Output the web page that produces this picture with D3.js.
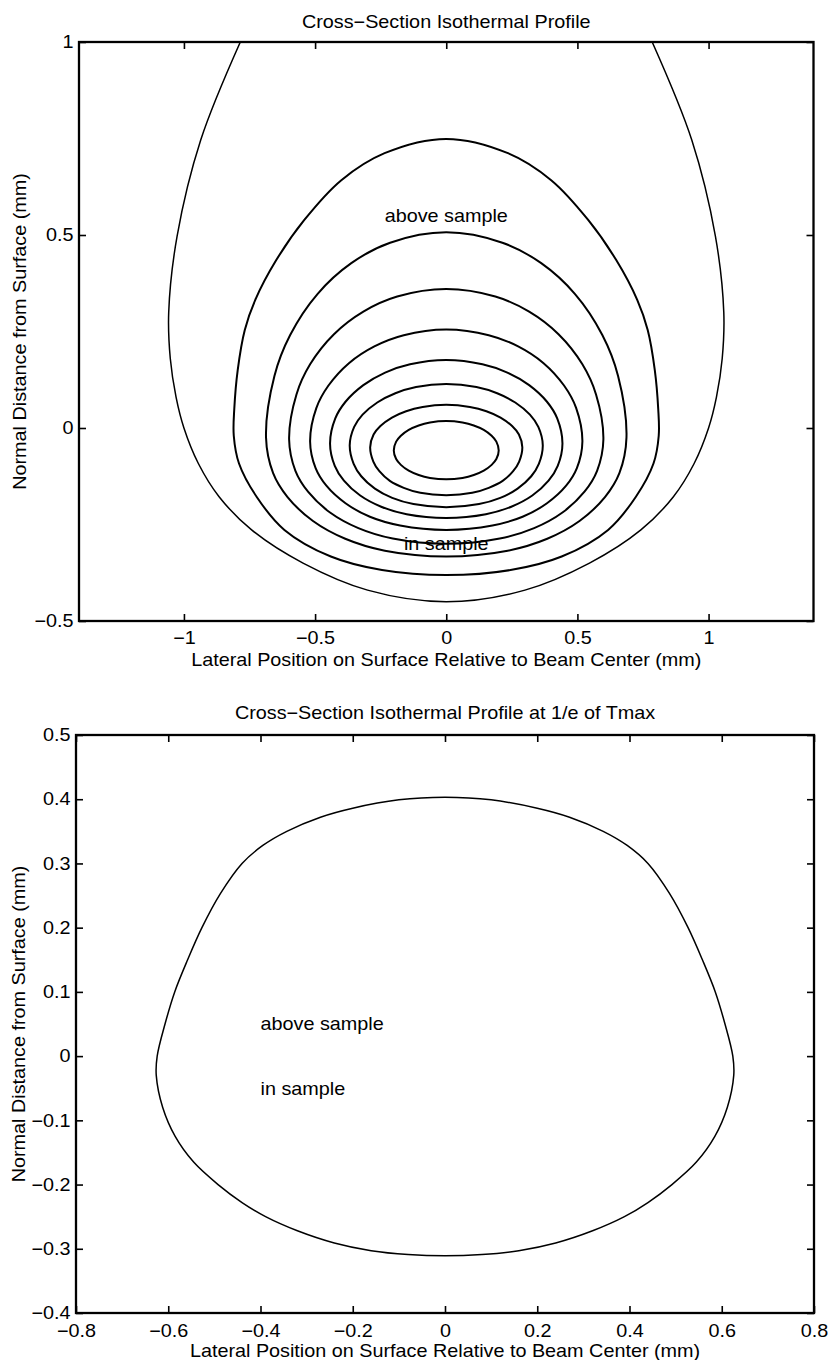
<!DOCTYPE html>
<html>
<head>
<meta charset="utf-8">
<script src="https://cdn.jsdelivr.net/npm/d3@7"></script>
<style>
  html, body { margin: 0; padding: 0; background: #fff; }
  svg { display: block; }
  text { font-family: "Liberation Sans", Arial, Helvetica, sans-serif; fill: #000; }
</style>
</head>
<body>
<svg id="fig" width="831" height="1360"></svg>
<script>
// ---------------- text ----------------
const topTitle = "Cross\u2212Section Isothermal Profile";
const bottomTitle = "Cross\u2212Section Isothermal Profile at 1/e of Tmax";
const xAxisLabel = "Lateral Position on Surface Relative to Beam Center (mm)";
const yAxisLabel = "Normal Distance from Surface (mm)";

// ---------------- ticks ----------------
const topXTicks = [-1, -0.5, 0, 0.5, 1];
const topXTickLabels = ["\u22121", "\u22120.5", "0", "0.5", "1"];
const topYTicks = [-0.5, 0, 0.5, 1];
const topYTickLabels = ["\u22120.5", "0", "0.5", "1"];

const botXTicks = [-0.8, -0.6, -0.4, -0.2, 0, 0.2, 0.4, 0.6, 0.8];
const botXTickLabels = ["\u22120.8", "\u22120.6", "\u22120.4", "\u22120.2", "0", "0.2", "0.4", "0.6", "0.8"];
const botYTicks = [-0.4, -0.3, -0.2, -0.1, 0, 0.1, 0.2, 0.3, 0.4, 0.5];
const botYTickLabels = ["\u22120.4", "\u22120.3", "\u22120.2", "\u22120.1", "0", "0.1", "0.2", "0.3", "0.4", "0.5"];

// ---------------- isotherms (right half, x >= 0, listed from top to bottom; mm) ----------------
// outermost isotherm leaves the plot through the top edge
const isoOuter = [[0.785, 1.0], [0.936, 0.746], [1.026, 0.497], [1.058, 0.3], [1.052, 0.18],
  [1.03, 0.08], [1.0, 0.0], [0.945, -0.092], [0.866, -0.178], [0.742, -0.264], [0.546, -0.35],
  [0.30, -0.42], [0, -0.45]];
const iso2 = [[0, 0.749], [0.235, 0.712], [0.40, 0.642], [0.541, 0.539], [0.648, 0.435], [0.728, 0.332],
  [0.768, 0.254], [0.795, 0.15], [0.808, 0.05], [0.81, -0.02], [0.79, -0.092], [0.723, -0.178],
  [0.617, -0.264], [0.44, -0.333], [0.245, -0.368], [0, -0.381]];
const iso3 = [[0, 0.507], [0.214, 0.480], [0.362, 0.427], [0.491, 0.347], [0.595, 0.241], [0.655, 0.135],
  [0.687, -0.025], [0.660, -0.117], [0.605, -0.179], [0.508, -0.241], [0.385, -0.287], [0.234, -0.318], [0, -0.333]];
const iso4 = [[0, 0.36], [0.187, 0.3405], [0.316, 0.3015], [0.428, 0.243], [0.519, 0.165], [0.571, 0.087],
  [0.599, -0.03], [0.575, -0.111], [0.527, -0.165], [0.443, -0.219], [0.335, -0.2595], [0.204, -0.2865], [0, -0.30]];
const iso5 = [[0, 0.255], [0.162, 0.2405], [0.274, 0.2115], [0.371, 0.168], [0.449, 0.11], [0.495, 0.052],
  [0.519, -0.035], [0.498, -0.104], [0.457, -0.1495], [0.384, -0.195], [0.291, -0.23], [0.176, -0.2526], [0, -0.264]];
const iso6 = [[0, 0.176], [0.138, 0.165], [0.233, 0.1436], [0.316, 0.111], [0.384, 0.068], [0.423, 0.0248],
  [0.443, -0.04], [0.425, -0.098], [0.390, -0.1365], [0.328, -0.175], [0.248, -0.204], [0.151, -0.2234], [0, -0.233]];
const iso7 = [[0, 0.114], [0.115, 0.106], [0.194, 0.090], [0.263, 0.066], [0.319, 0.0345], [0.351, 0.0027],
  [0.368, -0.045], [0.353, -0.093], [0.324, -0.125], [0.272, -0.157], [0.206, -0.181], [0.125, -0.197], [0, -0.205]];
const iso8 = [[0, 0.060], [0.090, 0.0545], [0.153, 0.0435], [0.207, 0.027], [0.251, 0.005], [0.277, -0.017],
  [0.290, -0.05], [0.278, -0.087], [0.255, -0.112], [0.215, -0.137], [0.162, -0.155], [0.099, -0.168], [0, -0.174]];
const iso9 = [[0, 0.018], [0.062, 0.0142], [0.105, 0.0066], [0.143, -0.0048], [0.173, -0.02], [0.191, -0.0352],
  [0.200, -0.058], [0.191, -0.0805], [0.173, -0.0955], [0.143, -0.1105], [0.105, -0.1218], [0.062, -0.1293], [0, -0.133]];
const topClosedIsotherms = [iso2, iso3, iso4, iso5, iso6, iso7, iso8, iso9];

// isotherm at 1/e of Tmax
const isoOneOverE = [[0, 0.403], [0.10, 0.399], [0.20, 0.386], [0.27, 0.372], [0.343, 0.35],
  [0.395, 0.328], [0.44, 0.30], [0.487, 0.253], [0.527, 0.2], [0.558, 0.15], [0.586, 0.1],
  [0.607, 0.05], [0.624, 0.0], [0.626, -0.03], [0.612, -0.08], [0.585, -0.125], [0.545, -0.165],
  [0.492, -0.2], [0.44, -0.228], [0.389, -0.25], [0.32, -0.272], [0.24, -0.291], [0.16, -0.303],
  [0.08, -0.309], [0, -0.311]];

// region annotations (data coordinates)
const topNotes = [{ text: "above sample", x: 0, y: 0.55, anchor: "middle" },
                  { text: "in sample", x: 0, y: -0.30, anchor: "middle" }];
const botNotes = [{ text: "above sample", x: -0.4, y: 0.05, anchor: "start" },
                  { text: "in sample", x: -0.4, y: -0.05, anchor: "start" }];

// ---------------- drawing ----------------
const svg = d3.select("#fig");
const FONT = 18;      // px
const STRETCH = 1.1;  // horizontal glyph stretch of the plotting font

function mirrorClosed(half) {
  const left = half.slice(1, -1).reverse().map(([px, py]) => [-px, py]);
  return half.concat(left);
}
function mirrorOpen(half) {
  const left = half.map(([px, py]) => [-px, py]);
  const right = half.slice(0, -1).reverse();
  return left.concat(right);
}

function addText(g, str, px, py, opt = {}) {
  const rot = opt.rotate ? ` rotate(${opt.rotate})` : "";
  const t = g.append("text")
    .attr("transform", `translate(${px},${py})${rot} scale(${STRETCH},1)`)
    .attr("text-anchor", opt.anchor || "middle")
    .attr("font-size", opt.size || FONT)
    .text(str);
  if (opt.dy) t.attr("dy", opt.dy);
  return t;
}

function drawPanel(cfg) {
  const g = svg.append("g");
  const x = d3.scaleLinear().domain(cfg.xDomain).range([cfg.left, cfg.right]);
  const y = d3.scaleLinear().domain(cfg.yDomain).range([cfg.bottom, cfg.top]);

  const clipId = "clip-" + cfg.id;
  g.append("clipPath").attr("id", clipId)
    .append("rect")
    .attr("x", cfg.left).attr("y", cfg.top)
    .attr("width", cfg.right - cfg.left).attr("height", cfg.bottom - cfg.top);

  const plot = g.append("g").attr("clip-path", `url(#${clipId})`);
  const closedLine = d3.line().x(d => x(d[0])).y(d => y(d[1])).curve(d3.curveCatmullRomClosed.alpha(0.5));
  const openLine = d3.line().x(d => x(d[0])).y(d => y(d[1])).curve(d3.curveCatmullRom.alpha(0.5));

  (cfg.open || []).forEach(c => {
    plot.append("path").attr("d", openLine(mirrorOpen(c.pts)))
      .attr("fill", "none").attr("stroke", "#000").attr("stroke-width", c.w)
      .attr("stroke-linejoin", "round");
  });
  (cfg.closed || []).forEach(c => {
    plot.append("path").attr("d", closedLine(mirrorClosed(c.pts)))
      .attr("fill", "none").attr("stroke", "#000").attr("stroke-width", c.w)
      .attr("stroke-linejoin", "round");
  });

  // axes: ticks point inward on all four sides, labels on bottom and left
  const styleAxis = sel => {
    sel.select(".domain").remove();
    sel.selectAll(".tick line").attr("stroke", "#000").attr("stroke-width", 1.6);
    sel.attr("font-size", FONT).attr("font-family", null);
    sel.selectAll(".tick text").attr("fill", "#000");
  };
  const TL = 7;
  g.append("g").attr("transform", `translate(0,${cfg.bottom})`)
    .call(d3.axisBottom(x).tickValues(cfg.xTicks).tickFormat((d, i) => cfg.xTickLabels[i])
      .tickSizeInner(-TL).tickSizeOuter(0).tickPadding(cfg.xPad))
    .call(styleAxis)
    .call(s => s.selectAll(".tick text").attr("transform", `scale(${STRETCH},1)`));
  g.append("g").attr("transform", `translate(0,${cfg.top})`)
    .call(d3.axisTop(x).tickValues(cfg.xTicks).tickFormat("").tickSizeInner(-TL).tickSizeOuter(0))
    .call(styleAxis);
  g.append("g").attr("transform", `translate(${cfg.left},0)`)
    .call(d3.axisLeft(y).tickValues(cfg.yTicks).tickFormat((d, i) => cfg.yTickLabels[i])
      .tickSizeInner(-TL).tickSizeOuter(0).tickPadding(cfg.yPad))
    .call(styleAxis)
    .call(s => s.selectAll(".tick text").attr("transform", `scale(${STRETCH},1)`));
  g.append("g").attr("transform", `translate(${cfg.right},0)`)
    .call(d3.axisRight(y).tickValues(cfg.yTicks).tickFormat("").tickSizeInner(-TL).tickSizeOuter(0))
    .call(styleAxis);

  // frame
  g.append("rect")
    .attr("x", cfg.left).attr("y", cfg.top)
    .attr("width", cfg.right - cfg.left).attr("height", cfg.bottom - cfg.top)
    .attr("fill", "none").attr("stroke", "#000").attr("stroke-width", 2.3);

  // annotations
  cfg.notes.forEach(n => addText(g, n.text, x(n.x), y(n.y), { anchor: n.anchor, dy: "0.35em" }));

  // titles and axis labels
  const cx = (cfg.left + cfg.right) / 2;
  addText(g, cfg.title, cx, cfg.titleBase);
  addText(g, xAxisLabel, cx, cfg.xLabelBase);
  addText(g, yAxisLabel, cfg.yLabelBase, (cfg.top + cfg.bottom) / 2, { rotate: -90 });
}

drawPanel({
  id: "top",
  left: 79, right: 813.5, top: 42, bottom: 621,
  xDomain: [-1.4, 1.4], yDomain: [-0.5, 1],
  xTicks: topXTicks, xTickLabels: topXTickLabels,
  yTicks: topYTicks, yTickLabels: topYTickLabels,
  xPad: 10, yPad: 5,
  open: [{ pts: isoOuter, w: 1.5 }],
  closed: topClosedIsotherms.map(p => ({ pts: p, w: 2 })),
  notes: topNotes,
  title: topTitle, titleBase: 28, xLabelBase: 666, yLabelBase: 26
});

drawPanel({
  id: "bottom",
  left: 76, right: 814, top: 735, bottom: 1313,
  xDomain: [-0.8, 0.8], yDomain: [-0.4, 0.5],
  xTicks: botXTicks, xTickLabels: botXTickLabels,
  yTicks: botYTicks, yTickLabels: botYTickLabels,
  xPad: 11, yPad: 5,
  closed: [{ pts: isoOneOverE, w: 1.5 }],
  notes: botNotes,
  title: bottomTitle, titleBase: 719, xLabelBase: 1357, yLabelBase: 25
});
</script>
</body>
</html>
